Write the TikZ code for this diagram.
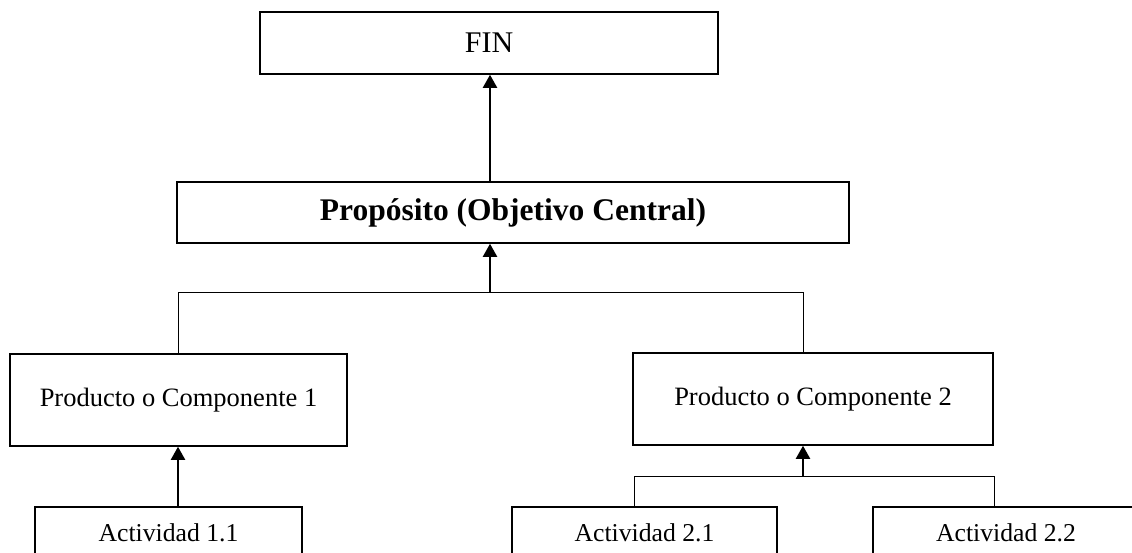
\documentclass[tikz,border=0pt]{standalone}
\usepackage{fontspec}
\setmainfont{Liberation Serif}
\usetikzlibrary{arrows.meta}
\tikzset{
  box/.style={draw, line width=1.5pt, inner sep=0pt, align=center},
  bus/.style={line width=1pt},
  uparrow/.style={line width=2pt, -{Triangle[length=13pt,width=14pt]}},
  bigtxt/.style={font=\fontsize{30}{36}\selectfont},
  titletxt/.style={font=\fontsize{31.5}{38}\selectfont\bfseries},
  midtxt/.style={font=\fontsize{26.5}{32}\selectfont},
  smalltxt/.style={font=\fontsize{25.7}{31}\selectfont},
}
\begin{document}
\begin{tikzpicture}[x=1pt,y=-1pt]
\useasboundingbox (0,0) rectangle (1132,552);
\clip (0,0) rectangle (1132,552);

% boxes
\node[box, bigtxt, minimum width=458pt, minimum height=62pt] (fin) at (489,43) {FIN};
\node[box, titletxt, minimum width=672pt, minimum height=61pt] (prop) at (513,212.5) {Propósito (Objetivo Central)};
\node[box, midtxt, minimum width=337pt, minimum height=92pt] (prod1) at (178.5,400) {Producto o Componente 1};
\node[box, midtxt, minimum width=360pt, minimum height=92pt] (prod2) at (813,399) {Producto o Componente 2};
\node[box, smalltxt, minimum width=267pt, minimum height=52pt] (act11) at (168.5,533) {Actividad 1.1};
\node[box, smalltxt, minimum width=265pt, minimum height=52pt] (act21) at (644.5,533) {Actividad 2.1};
\node[box, smalltxt, minimum width=266pt, minimum height=52pt] (act22) at (1006,533) {Actividad 2.2};

% junction points of the connector buses
\coordinate (jL) at (178,292);
\coordinate (jM) at (490,292);
\coordinate (jR) at (803,292);
\coordinate (kL) at (634,476);
\coordinate (kM) at (803,476);
\coordinate (kR) at (994,476);

% connectors
\draw[uparrow] (prop.north -| jM) -- (fin.south -| jM);
\draw[bus] (prod1.north -| jL) -- (jL) -- (jR) -- (prod2.north -| jR);
\draw[uparrow] (jM) -- (prop.south -| jM);
\draw[uparrow] (act11.north -| jL) -- (prod1.south -| jL);
\draw[bus] (act21.north -| kL) -- (kL) -- (kR) -- (act22.north -| kR);
\draw[uparrow] (kM) -- (prod2.south -| kM);
\end{tikzpicture}
\end{document}
